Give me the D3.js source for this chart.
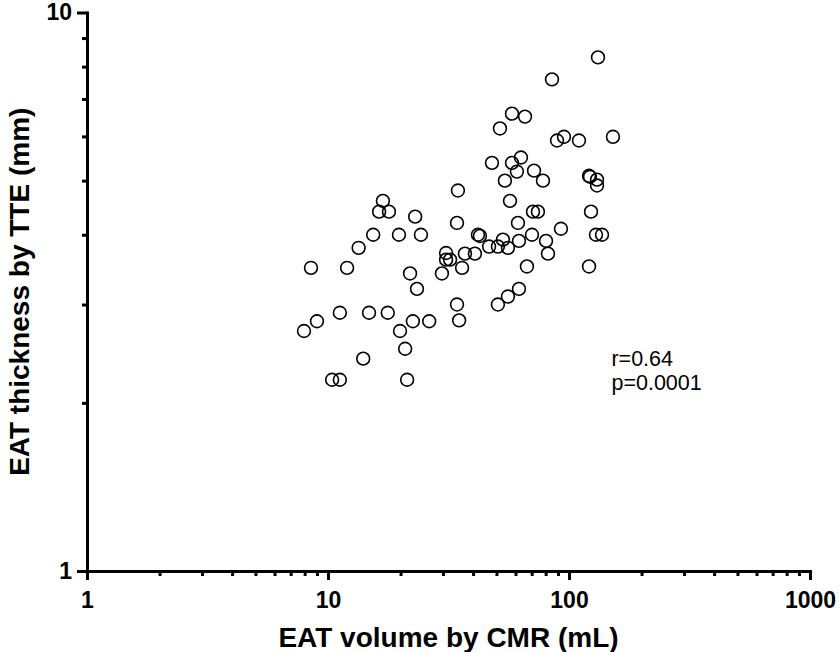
<!DOCTYPE html>
<html>
<head>
<meta charset="utf-8">
<script src="https://cdnjs.cloudflare.com/ajax/libs/d3/7.8.5/d3.min.js"></script>
<style>
    body { margin: 0; background: #fff; }
    #chart-area { width: 839px; height: 652px; }
    .axis path, .axis line { stroke: #000; stroke-width: 3px; }
    .axis text { font-family: "Liberation Sans", Arial, sans-serif; font-weight: bold; font-size: 23px; fill: #000; }
    .axis-title { font-family: "Liberation Sans", Arial, sans-serif; font-weight: bold; font-size: 28px; fill: #000; }
    .stats { font-family: "Liberation Sans", Arial, sans-serif; font-size: 21.5px; fill: #000; }
</style>
</head>
<body>
<div id="chart-area"></div>
<script>

// EAT volume by CMR (mL)
let cmrVolume = [
    131.9, 85.0, 58.0, 65.7, 51.7, 89.2, 95.3, 110.0, 152.2, 47.9,
    58.0, 63.2, 60.8, 71.6, 78.0, 54.2, 121.1, 122.2, 130.7, 130.7,
    34.6, 56.9, 70.9, 74.3, 123.4, 34.3, 61.4, 92.6, 41.9, 42.7,
    70.2, 129.4, 137.1, 53.2, 62.0, 80.3, 46.6, 50.7, 55.8, 81.8,
    40.7, 37.0, 30.9, 30.9, 32.1, 36.0, 29.7, 66.9, 121.1, 62.0,
    55.8, 50.7, 34.3, 35.0, 26.3, 16.9, 16.3, 17.9, 23.0, 15.4,
    19.7, 24.3, 13.4, 8.5, 12.0, 21.9, 23.4, 11.2, 14.8, 17.7,
    9.0, 7.95, 19.9, 22.5, 20.9, 14.0, 10.4, 11.2, 21.3
];

// EAT thickness by TTE (mm)
let tteThickness = [
    8.31, 7.59, 6.59, 6.51, 6.20, 5.90, 5.99, 5.90, 5.99, 5.38,
    5.38, 5.50, 5.19, 5.21, 5.00, 5.00, 5.10, 5.08, 5.02, 4.90,
    4.80, 4.60, 4.40, 4.40, 4.40, 4.20, 4.20, 4.10, 4.00, 3.98,
    4.00, 4.00, 4.00, 3.92, 3.90, 3.90, 3.81, 3.81, 3.79, 3.70,
    3.70, 3.70, 3.71, 3.61, 3.61, 3.49, 3.41, 3.51, 3.51, 3.20,
    3.10, 3.00, 3.00, 2.81, 2.80, 4.60, 4.40, 4.40, 4.31, 4.00,
    4.00, 4.00, 3.79, 3.49, 3.49, 3.41, 3.20, 2.90, 2.90, 2.90,
    2.80, 2.69, 2.69, 2.80, 2.50, 2.40, 2.20, 2.20, 2.20
];

let xMajorTicks = [1, 10, 100, 1000];
let yMajorTicks = [1, 10];
let statLines = ["r=0.64", "p=0.0001"];


class ScatterVis {

    constructor(parentElement) {
        this.parentElement = parentElement;
        this.initVis();
    }

    initVis() {
        let vis = this;

        vis.margin = {top: 12.5, right: 29, bottom: 81, left: 87};
        vis.width = 839 - vis.margin.left - vis.margin.right;
        vis.height = 652 - vis.margin.top - vis.margin.bottom;

        vis.svg = d3.select("#" + vis.parentElement).append("svg")
            .attr("width", 839)
            .attr("height", 652)
            .append("g")
            .attr("transform", `translate(${vis.margin.left}, ${vis.margin.top})`);

        vis.x = d3.scaleLog().domain([1, 1000]).range([0, vis.width]);
        vis.y = d3.scaleLog().domain([1, 10]).range([vis.height, 0]);

        vis.wrangleData();
    }

    wrangleData() {
        let vis = this;

        vis.displayData = cmrVolume.map((d, i) => ({vol: d, thick: tteThickness[i]}));

        // minor ticks 2..9 in every decade
        vis.xAllTicks = [];
        xMajorTicks.forEach(t => {
            if (t < 1000) for (let k = 1; k <= 9; k++) vis.xAllTicks.push(t * k);
        });
        vis.xAllTicks.push(1000);

        vis.yAllTicks = [];
        for (let k = 1; k <= 10; k++) vis.yAllTicks.push(k);

        vis.updateVis();
    }

    updateVis() {
        let vis = this;
        let isMajorX = d => xMajorTicks.includes(d);
        let isMajorY = d => yMajorTicks.includes(d);

        // x axis
        let xAxis = d3.axisBottom(vis.x)
            .tickValues(vis.xAllTicks)
            .tickSizeOuter(0)
            .tickFormat(d => isMajorX(d) ? d3.format("d")(d) : "");

        let gx = vis.svg.append("g")
            .attr("class", "axis x-axis")
            .attr("transform", `translate(0, ${vis.height})`)
            .call(xAxis);
        gx.selectAll(".tick line").attr("y2", d => isMajorX(d) ? 9 : 5);
        gx.selectAll(".tick text").attr("y", 37).attr("dy", null);

        // y axis
        let yAxis = d3.axisLeft(vis.y)
            .tickValues(vis.yAllTicks)
            .tickSizeOuter(0)
            .tickFormat(d => isMajorY(d) ? d3.format("d")(d) : "");

        let gy = vis.svg.append("g")
            .attr("class", "axis y-axis")
            .call(yAxis);
        gy.selectAll(".tick line").attr("x2", d => isMajorY(d) ? -10 : -5);
        gy.selectAll(".tick text").attr("x", -15);

        vis.svg.selectAll(".axis .domain").attr("stroke-linecap", "square");

        // points
        vis.svg.selectAll(".dot")
            .data(vis.displayData)
            .enter().append("circle")
            .attr("class", "dot")
            .attr("cx", d => vis.x(d.vol))
            .attr("cy", d => vis.y(d.thick))
            .attr("r", 6.4)
            .attr("fill", "none")
            .attr("stroke", "#000")
            .attr("stroke-width", 1.6);

        // stats text
        vis.svg.append("g")
            .selectAll("text")
            .data(statLines)
            .enter().append("text")
            .attr("class", "stats")
            .attr("x", vis.x(150))
            .attr("y", (d, i) => vis.y(2.33) + i * 24.5)
            .text(d => d);

        // axis titles
        vis.svg.append("text")
            .attr("class", "axis-title")
            .attr("text-anchor", "middle")
            .attr("x", vis.width / 2)
            .attr("y", vis.height + 76)
            .text("EAT volume by CMR (mL)");

        vis.svg.append("text")
            .attr("class", "axis-title")
            .attr("text-anchor", "middle")
            .attr("transform", `translate(${29 - vis.margin.left}, ${vis.height / 2}) rotate(-90)`)
            .text("EAT thickness by TTE (mm)");
    }
}

let scatterVis = new ScatterVis("chart-area");

</script>
</body>
</html>
